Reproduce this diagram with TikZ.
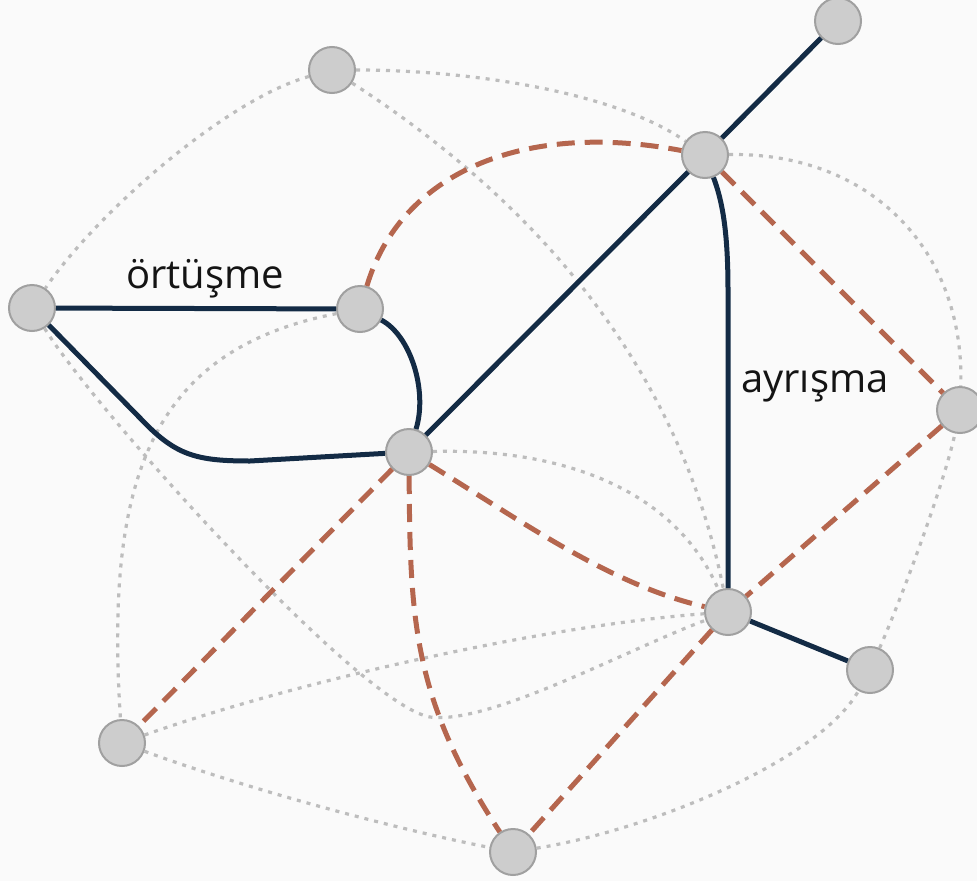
\documentclass[tikz,border=0pt]{standalone}
\usepackage{fontspec}
\setmainfont{Open Sans}
\definecolor{navy}{HTML}{132B45}
\definecolor{rust}{HTML}{B5664E}
\definecolor{dotgray}{HTML}{BDBDBD}
\definecolor{nodefill}{HTML}{CDCDCD}
\definecolor{nodeedge}{HTML}{A0A0A0}
\definecolor{bgcol}{HTML}{FAFAFA}
\begin{document}
\begin{tikzpicture}[x=1pt,y=-1pt,
  vtx/.style={circle,minimum size=46pt,inner sep=0pt,fill=nodefill,draw=nodeedge,line width=2pt},
  solidedge/.style={draw=navy,line width=5pt},
  rustedge/.style={draw=rust,line width=5pt,dash pattern=on 18pt off 10pt},
  dotedge/.style={draw=dotgray,line width=3.2pt,dash pattern=on 4pt off 6pt},
  lbl/.style={font=\fontsize{40}{48}\selectfont,text=black!92,inner sep=0pt,anchor=base west}]
\fill[bgcol] (0,0) rectangle (977,881);
\useasboundingbox (0,0) rectangle (977,881);

\node[vtx] (A) at (332,70) {};
\node[vtx] (B) at (838,21) {};
\node[vtx] (C) at (705,155) {};
\node[vtx] (D) at (32,308) {};
\node[vtx] (E) at (360,309) {};
\node[vtx] (F) at (409,452) {};
\node[vtx] (G) at (960,410) {};
\node[vtx] (H) at (728,612) {};
\node[vtx] (I) at (870,670) {};
\node[vtx] (J) at (122,743) {};
\node[vtx] (K) at (513,852) {};

% dotted
\draw[dotedge] (A) .. controls (480,70) and (620,95) .. (C);
\draw[dotedge] (A) .. controls (225,100) and (95,215) .. (D);
\draw[dotedge] (A) .. controls (582,232) and (688,412) .. (H);
\draw[dotedge] (E) .. controls (150,350) and (105,480) .. (J);
\draw[dotedge] (D) .. controls (95,410) and (360,705) .. (430,717)
                   .. controls (490,725) and (630,648) .. (H);
\draw[dotedge] (J) .. controls (300,680) and (550,625) .. (H);
\draw[dotedge] (J) .. controls (250,790) and (400,830) .. (K);
\draw[dotedge] (K) .. controls (650,830) and (820,760) .. (I);
\draw[dotedge] (I) .. controls (905,590) and (945,480) .. (G);
\draw[dotedge] (C) .. controls (870,152) and (965,250) .. (G);
\draw[dotedge] (F) .. controls (580,448) and (680,500) .. (H);

% dashed
\draw[rustedge] (E) .. controls (400,175) and (520,120) .. (C);
\draw[rustedge] (C) -- (G);
\draw[rustedge] (G) -- (H);
\draw[rustedge] (F) .. controls (520,520) and (610,585) .. (H);
\draw[rustedge] (F) -- (J);
\draw[rustedge] (F) .. controls (410,620) and (413,700) .. (K);
\draw[rustedge] (H) -- (K);

% solid
\draw[solidedge] (B) -- (C);
\draw[solidedge] (C) -- (F);
\draw[solidedge] (C) .. controls (722,200) and (728,230) .. (728,290) -- (H);
\draw[solidedge] (D) -- (E);
\draw[solidedge] (E) .. controls (410,335) and (428,390) .. (F);
\draw[solidedge] (D) -- (140,418) .. controls (175,455) and (195,461) .. (250,461) -- (F);
\draw[solidedge] (H) -- (I);

\node[lbl] (l1) at (126,288) {örtüşme};
\node[lbl] (l2) at (741,392) {ayrışma};
\end{tikzpicture}
\end{document}
